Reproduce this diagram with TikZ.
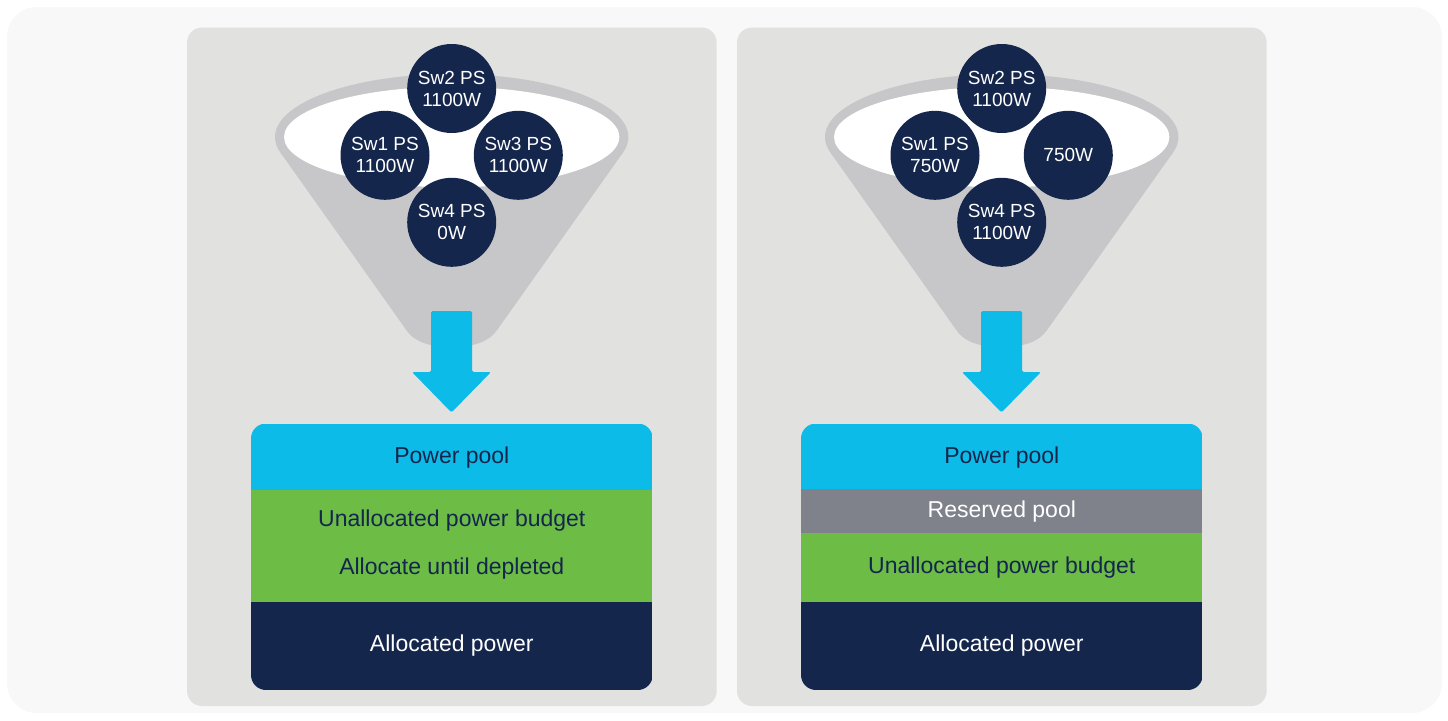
\documentclass[tikz,border=0pt]{standalone}
\usepackage{fontspec}
\setmainfont{Liberation Sans}
\definecolor{outerbg}{HTML}{F8F8F8}
\definecolor{panelbg}{HTML}{E1E1E0}
\definecolor{funnelgrey}{HTML}{C7C7C9}
\definecolor{navy}{HTML}{14264C}
\definecolor{cyanb}{HTML}{0DBBE8}
\definecolor{greenb}{HTML}{6CBC46}
\definecolor{greyb}{HTML}{7F828A}
\begin{document}
\begin{tikzpicture}[x=1pt,y=-1pt,
  psnode/.style={circle, fill=navy, minimum size=89pt, inner sep=0pt, text=white, align=center, font=\fontsize{19}{22}\selectfont},
  barlabel/.style={font=\fontsize{23}{27}\selectfont, text=navy, inner sep=0pt},
  whitelabel/.style={barlabel, text=white},
  panelbox/.style={fill=panelbg, rounded corners=15pt},
  downarrow/.style={fill=cyanb, rounded corners=1.5pt}]
\fill[white] (0,0) rectangle (1448,720);
\useasboundingbox (0,0) rectangle (1448,720);
\fill[outerbg, rounded corners=30pt] (7,7) rectangle (1442,713);
% panels
\fill[panelbox] (187,27.5) rectangle (716.7,706);
\fill[panelbox] (737,27.5) rectangle (1266.7,706);

% ---------- left funnel ----------
\fill[funnelgrey] (280.4,152.5) -- (406.3,330) .. controls (414,342) and (430,347) .. (451.7,347)
   .. controls (473,347) and (489,342) .. (497.1,330) -- (623,152.5) -- cycle;
\fill[funnelgrey] (451.7,137) ellipse [x radius=176.7, y radius=63];
\fill[white] (451.7,137) ellipse [x radius=167.7, y radius=50.3];
\node[psnode] (l2) at (451.7,88.5) {Sw2 PS\\1100W};
\node[psnode] (l1) at (385,155.3) {Sw1 PS\\1100W};
\node[psnode] (l3) at (518.3,155.3) {Sw3 PS\\1100W};
\node[psnode] (l4) at (451.7,222.3) {Sw4 PS\\0W};
\fill[downarrow] (431,311) -- (472,311) -- (472,372) -- (491,372) -- (451.5,412.5) -- (412,372) -- (431,372) -- cycle;

% left stack
\begin{scope}
\clip[rounded corners=15pt] (251,423.5) rectangle (652.7,690);
\fill[cyanb] (251,423.5) rectangle (652.7,490);
\fill[greenb] (251,490) rectangle (652.7,601.7);
\fill[navy] (251,601.7) rectangle (652.7,690);
\end{scope}
\node[barlabel] (lpool) at (451.8,457.5) {Power pool};
\node[barlabel] (lunalloc) at (451.8,520.5) {Unallocated power budget};
\node[barlabel] (ldeplete) at (451.8,568.7) {Allocate until depleted};
\node[whitelabel] (lalloc) at (451.8,645.5) {Allocated power};

% ---------- right funnel ----------
\begin{scope}[xshift=550pt]
\fill[funnelgrey] (280.4,152.5) -- (406.3,330) .. controls (414,342) and (430,347) .. (451.7,347)
   .. controls (473,347) and (489,342) .. (497.1,330) -- (623,152.5) -- cycle;
\fill[funnelgrey] (451.7,137) ellipse [x radius=176.7, y radius=63];
\fill[white] (451.7,137) ellipse [x radius=167.7, y radius=50.3];
\node[psnode] (r2) at (451.7,88.5) {Sw2 PS\\1100W};
\node[psnode] (r1) at (385,155.3) {Sw1 PS\\750W};
\node[psnode] (r3) at (518.3,155.3) {750W};
\node[psnode] (r4) at (451.7,222.3) {Sw4 PS\\1100W};
\fill[downarrow] (431,311) -- (472,311) -- (472,372) -- (491,372) -- (451.5,412.5) -- (412,372) -- (431,372) -- cycle;

\begin{scope}
\clip[rounded corners=15pt] (251,423.5) rectangle (652.7,690);
\fill[cyanb] (251,423.5) rectangle (652.7,489.3);
\fill[greyb] (251,489.3) rectangle (652.7,533.3);
\fill[greenb] (251,533.3) rectangle (652.7,601.7);
\fill[navy] (251,601.7) rectangle (652.7,690);
\end{scope}
\node[barlabel] (rpool) at (451.8,457.5) {Power pool};
\node[whitelabel] (rreserved) at (451.8,512) {Reserved pool};
\node[barlabel] (runalloc) at (451.8,568) {Unallocated power budget};
\node[whitelabel] (ralloc) at (451.8,645.5) {Allocated power};
\end{scope}
\end{tikzpicture}
\end{document}
